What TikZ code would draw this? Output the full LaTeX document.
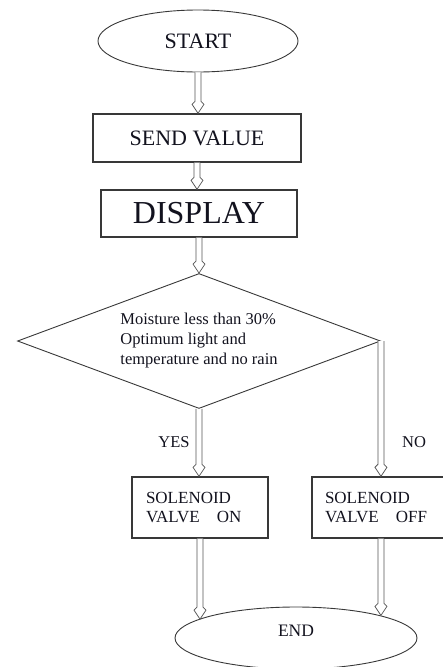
\documentclass[tikz,border=0pt]{standalone}
\usepackage{fontspec}
\setmainfont{Liberation Serif}
\usetikzlibrary{shapes.geometric,calc}
\definecolor{edge}{HTML}{383838}
\definecolor{shaft}{HTML}{555555}
\definecolor{ink}{HTML}{12121E}

\begin{document}
\begin{tikzpicture}[x=1pt,y=-1pt,
  base/.style={draw=edge, text=ink, inner sep=0pt},
  term/.style={base, ellipse, line width=0.9pt},
  procbox/.style={base, rectangle, line width=1.4pt},
  decision/.style={base, diamond, line width=0.9pt, aspect=2.69},
  lbl/.style={text=ink, inner sep=0pt, font=\fontsize{16.5}{19}\selectfont},
  % hollow block arrow running straight down from the start point
  harrow/.style={draw=shaft, line width=0.75pt, fill=white,
    to path={let \p1=(\tikztostart), \p2=(\tikztotarget) in
      (\x1-3pt,\y1) -- (\x1-3pt,\y2+12pt) -- (\x1-6pt,\y2+9pt) -- (\x1,\y2)
      -- (\x1+6pt,\y2+9pt) -- (\x1+3pt,\y2+12pt) -- (\x1+3pt,\y1)}}
]
\useasboundingbox (0,0) rectangle (443,667);

% nodes
\node[term, minimum width=200pt, minimum height=62pt,
      font=\fontsize{22}{26}\selectfont] (start) at (198,41) {START};
\node[procbox, minimum width=208pt, minimum height=48pt,
      font=\fontsize{22}{26}\selectfont] (send) at (197,138) {SEND VALUE};
\node[procbox, minimum width=196pt, minimum height=47pt,
      font=\fontsize{32}{36}\selectfont] (disp) at (199,213.5) {DISPLAY};
\node[decision, minimum width=363pt, minimum height=135pt, align=left,
      font=\fontsize{16.5}{20}\selectfont] (cond) at (199,341)
      {Moisture less than 30\%\\Optimum light and\\temperature and no rain};
\node[procbox, minimum height=61pt, text width=108pt, inner xsep=14pt,
      align=left, font=\fontsize{17}{18.5}\selectfont] (on) at (200,507.5)
      {SOLENOID\\VALVE\ \ \ ON};
\node[procbox, minimum height=61pt, text width=110pt, inner xsep=13pt,
      align=left, font=\fontsize{17}{18.5}\selectfont] (off) at (380,507.5)
      {SOLENOID\\VALVE\ \ \ OFF};
\node[term, minimum width=242pt, minimum height=62pt, text depth=14pt,
      font=\fontsize{17.5}{20}\selectfont] (end) at (296,638) {END};

% branch labels
\node[lbl] (yes) at (174,442) {YES};
\node[lbl] (no) at (414,442) {NO};

% connectors
\draw[harrow] (start.south) to (send.north);
\draw[harrow] (send.south) to (disp.north);
\draw[harrow] (disp.south) to (cond.north);
\draw[harrow] (cond.south) to (on.north);
\draw[harrow] (cond.east) to (cond.east |- off.north);
\draw[harrow] (on.south) to (on.south |- end.169);
\draw[harrow] (cond.east |- off.south) to (cond.east |- end.15);
\end{tikzpicture}
\end{document}
